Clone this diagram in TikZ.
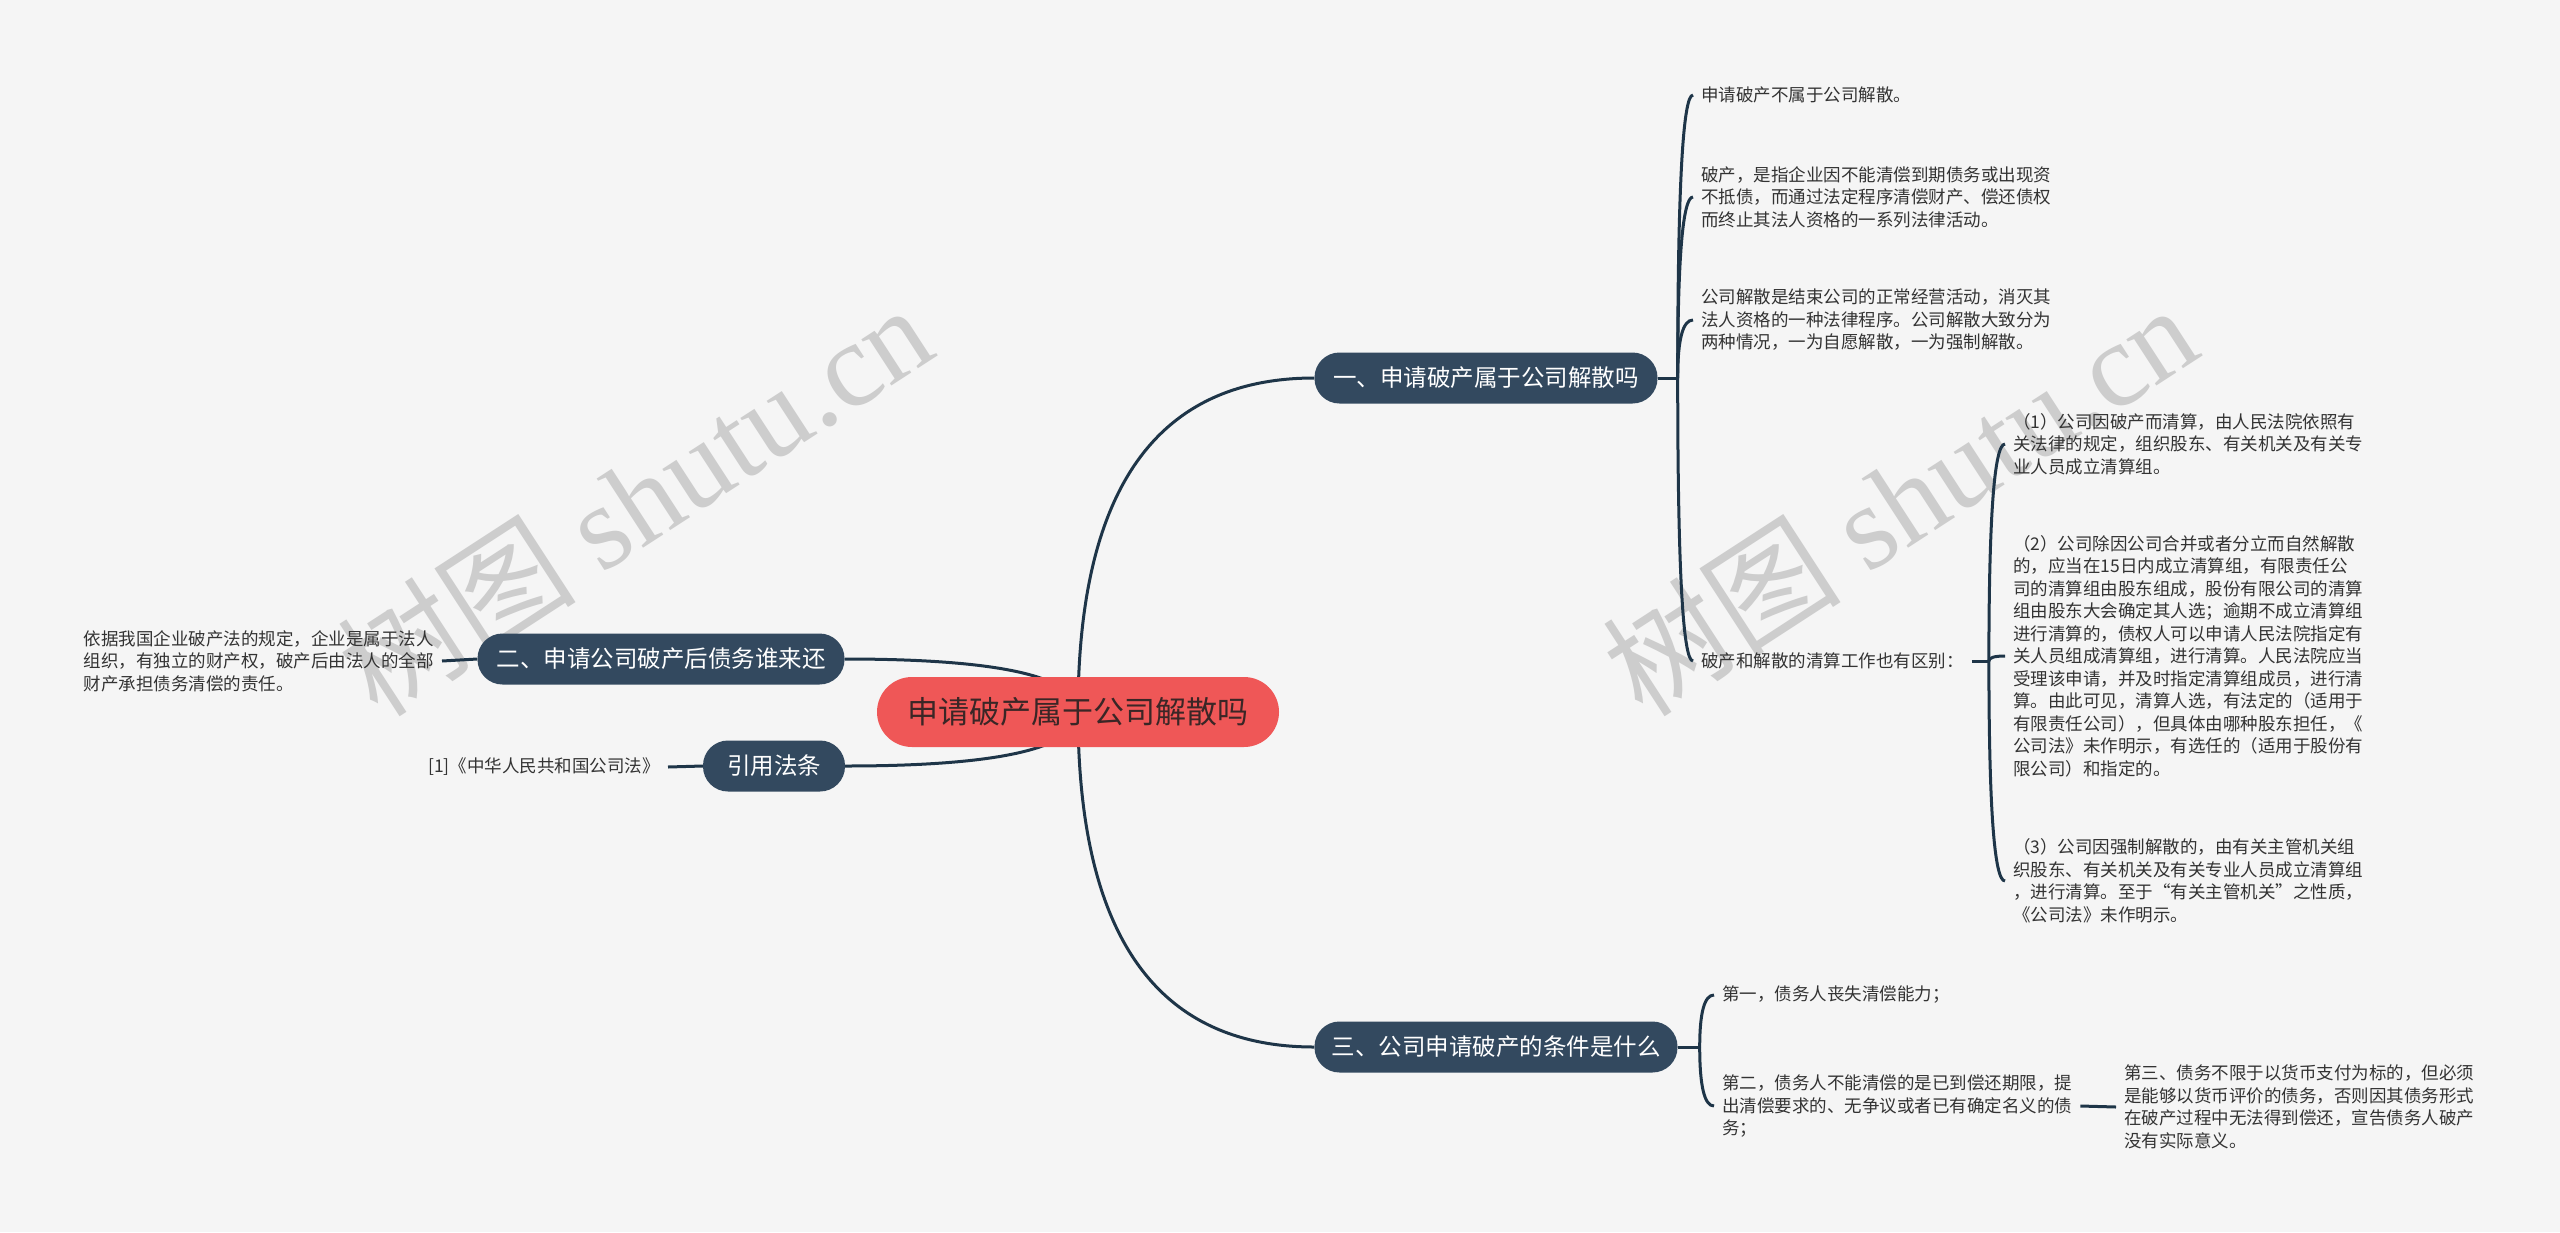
\documentclass[tikz,border=0pt]{standalone}
\usepackage{fontspec}
\setmainfont{Noto Sans CJK SC}
\newfontfamily\wmserif{Liberation Serif}
\newfontfamily\wmcjk{Noto Sans CJK SC}
\usetikzlibrary{calc,backgrounds}
\definecolor{bgc}{HTML}{F5F5F5}
\definecolor{navy}{HTML}{33495F}
\definecolor{linec}{HTML}{1E3548}
\definecolor{rootred}{HTML}{EF5757}
\definecolor{roottxt}{HTML}{3A2626}
\definecolor{leaftxt}{HTML}{333333}
\definecolor{wmc}{HTML}{CDCDCD}
\newcommand{\qlink}[2]{\draw[conn] (#1) .. controls ($(#1)!0.667!(#1 |- #2)$) and ($(#2)!0.667!(#1 |- #2)$) .. (#2);}
\begin{document}
\begin{tikzpicture}[x=1pt,y=-1pt,
  rootnode/.style={fill=rootred, text=roottxt, rounded corners=35pt, minimum height=70pt, minimum width=402pt, inner xsep=0pt, inner ysep=0pt, font=\fontsize{31}{38}\selectfont},
  branch/.style={fill=navy, text=white, rounded corners=25pt, minimum height=51pt, inner xsep=0pt, inner ysep=0pt, font=\fontsize{23.5}{29}\selectfont},
  leaf/.style={text=leaftxt, align=left, inner xsep=8pt, inner ysep=2pt, font=\fontsize{17.5}{22.5}\selectfont},
  conn/.style={draw=linec, line width=3pt},
  wm/.style={text=wmc, inner sep=0pt, font=\fontsize{120}{120}\selectfont},
]
\useasboundingbox (0,0) rectangle (2560,1232);

% central and main branches
\node[rootnode] (root) at (1078,712) {申请破产属于公司解散吗};
\node[branch, minimum width=343pt] (n1) at (1486,378) {一、申请破产属于公司解散吗};
\node[branch, minimum width=363pt] (n3) at (1496,1047) {三、公司申请破产的条件是什么};
\node[branch, minimum width=367pt] (n2) at (661,659) {二、申请公司破产后债务谁来还};
\node[branch, minimum width=142pt] (n4) at (774,766) {引用法条};

% branch one leaves
\node[leaf, anchor=west] (c1) at (1693,95) {申请破产不属于公司解散。};
\node[leaf, anchor=west] (c2) at (1693,197) {破产，是指企业因不能清偿到期债务或出现资\\不抵债，而通过法定程序清偿财产、偿还债权\\而终止其法人资格的一系列法律活动。};
\node[leaf, anchor=west] (c3) at (1693,320) {公司解散是结束公司的正常经营活动，消灭其\\法人资格的一种法律程序。公司解散大致分为\\两种情况，一为自愿解散，一为强制解散。};
\node[leaf, anchor=west] (c4) at (1693,661) {破产和解散的清算工作也有区别：};
\node[leaf, anchor=west] (d1) at (2005,444) {（1）公司因破产而清算，由人民法院依照有\\关法律的规定，组织股东、有关机关及有关专\\业人员成立清算组。};
\node[leaf, anchor=west] (d2) at (2005,656) {（2）公司除因公司合并或者分立而自然解散\\的，应当在15日内成立清算组，有限责任公\\司的清算组由股东组成，股份有限公司的清算\\组由股东大会确定其人选；逾期不成立清算组\\进行清算的，债权人可以申请人民法院指定有\\关人员组成清算组，进行清算。人民法院应当\\受理该申请，并及时指定清算组成员，进行清\\算。由此可见，清算人选，有法定的（适用于\\有限责任公司），但具体由哪种股东担任，《\\公司法》未作明示，有选任的（适用于股份有\\限公司）和指定的。};
\node[leaf, anchor=west] (d3) at (2005,881) {（3）公司因强制解散的，由有关主管机关组\\织股东、有关机关及有关专业人员成立清算组\\，进行清算。至于“有关主管机关”之性质，\\《公司法》未作明示。};

% branch three leaves
\node[leaf, anchor=west] (e1) at (1714,995) {第一，债务人丧失清偿能力；};
\node[leaf, anchor=west] (e2) at (1714,1106) {第二，债务人不能清偿的是已到偿还期限，提\\出清偿要求的、无争议或者已有确定名义的债\\务；};
\node[leaf, anchor=west] (e3) at (2116,1107) {第三、债务不限于以货币支付为标的，但必须\\是能够以货币评价的债务，否则因其债务形式\\在破产过程中无法得到偿还，宣告债务人破产\\没有实际意义。};

% left leaves
\node[leaf, anchor=east] (l2) at (442,661) {依据我国企业破产法的规定，企业是属于法人\\组织，有独立的财产权，破产后由法人的全部\\财产承担债务清偿的责任。};
\node[leaf, anchor=east] (l4) at (668,767) {[1]《中华人民共和国公司法》};

\coordinate (b1) at ([xshift=20pt]n1.east);
\coordinate (b4) at ([xshift=17pt]c4.east);
\coordinate (b3) at ([xshift=22pt]n3.east);

\begin{scope}[on background layer]
  \fill[bgc] (0,0) rectangle (2560,1232);
  \node[wm, anchor=base west, rotate=33] (wm1) at (378,720) {{\wmcjk 树图} {\wmserif shutu.cn}};
  \node[wm, anchor=base west, rotate=33] (wm2) at (1643,720) {{\wmcjk 树图} {\wmserif shutu.cn}};
  \qlink{root.center}{n1.west}
  \qlink{root.center}{n3.west}
  \qlink{root.center}{n2.east}
  \qlink{root.center}{n4.east}
  \draw[conn] (n1.east) -- (b1);
  \qlink{b1}{c1.west}
  \qlink{b1}{c2.west}
  \qlink{b1}{c3.west}
  \qlink{b1}{c4.west}
  \draw[conn] (c4.east) -- (b4);
  \qlink{b4}{d1.west}
  \qlink{b4}{d2.west}
  \qlink{b4}{d3.west}
  \draw[conn] (n3.east) -- (b3);
  \qlink{b3}{e1.west}
  \qlink{b3}{e2.west}
  \draw[conn] (e2.east) -- (e3.west);
  \draw[conn] (n2.west) -- (l2.east);
  \draw[conn] (n4.west) -- (l4.east);
\end{scope}
\end{tikzpicture}
\end{document}
